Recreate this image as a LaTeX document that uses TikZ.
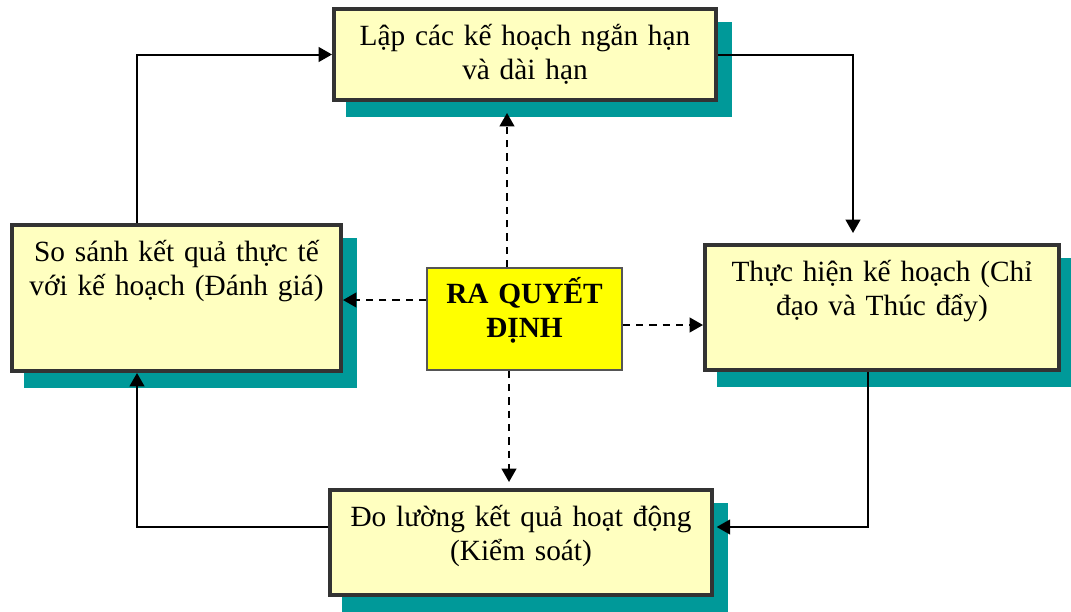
\documentclass[tikz,border=0pt]{standalone}
\usepackage{fontspec}
\setmainfont{Liberation Serif}
\usetikzlibrary{arrows.meta,shadows}
\definecolor{cardfill}{HTML}{FFFFC0}
\definecolor{cardline}{HTML}{333333}
\definecolor{shadeteal}{HTML}{009999}
\definecolor{keyfill}{HTML}{FFFF00}
\definecolor{keyline}{HTML}{555555}
\begin{document}
\begin{tikzpicture}[
  x=0.75pt, y=-0.75pt,
  every node/.style={font=\fontsize{22}{25.5}\selectfont, align=center, inner sep=0pt},
  card/.style={draw=cardline, line width=3pt, fill=cardfill, text height=27pt,
    drop shadow={shadow xshift=10.5pt, shadow yshift=-11.25pt, fill=shadeteal,
      draw=shadeteal, line width=3pt, opacity=1}},
  keybox/.style={draw=keyline, line width=1.1pt, fill=keyfill,
    font=\fontsize{22}{25.5}\selectfont\bfseries,
    text width=146.25pt, text height=26.25pt, text depth=50.25pt},
  flow/.style={line width=1.5pt, -{Triangle[length=10pt,width=11pt]}},
  hint/.style={flow, dash pattern=on 5.5pt off 4.5pt}
]
\useasboundingbox (0,0) rectangle (1071,611);

% the four steps of the cycle
\node[card, text width=286.5pt, text depth=41.25pt] (plan) at (525,54.5)
  {Lập các kế hoạch ngắn hạn\\và dài hạn};
\node[card, text width=265.5pt, text depth=66.75pt] (exec) at (882,307.5)
  {Thực hiện kế hoạch (Chỉ\\đạo và Thúc đẩy)};
\node[card, text width=246.75pt, text depth=82.5pt] (eval) at (176.5,298)
  {So sánh kết quả thực tế\\với kế hoạch (Đánh giá)};
\node[card, text width=286.5pt, text depth=51.75pt] (ctrl) at (521,542.5)
  {Đo lường kết quả hoạt động\\(Kiểm soát)};

% decision in the middle
\node[keybox] (decide) at (524.5,319) {RA QUYẾT\\ĐỊNH};

% cycle
\draw[flow] (137,0 |- eval.north) |- (plan.west);
\draw[flow, shorten >=7.5pt] (plan.east) -| (853,0 |- exec.north);
\draw[flow, shorten >=2pt] (868,0 |- exec.south) |- (ctrl.east |- 0,527);
\draw[flow] (ctrl.west |- 0,527) -| (137,0 |- eval.south);

% decision feeds every step
\draw[hint, shorten >=8.25pt] (507,0 |- decide.north) -- (507,0 |- plan.south);
\draw[hint, shorten >=4.5pt] (509,0 |- decide.south) -- (509,0 |- ctrl.north);
\draw[hint] (decide.west |- 0,300) -- (eval.east |- 0,300);
\draw[hint] (decide.east |- 0,325) -- (exec.west |- 0,325);
\end{tikzpicture}
\end{document}
